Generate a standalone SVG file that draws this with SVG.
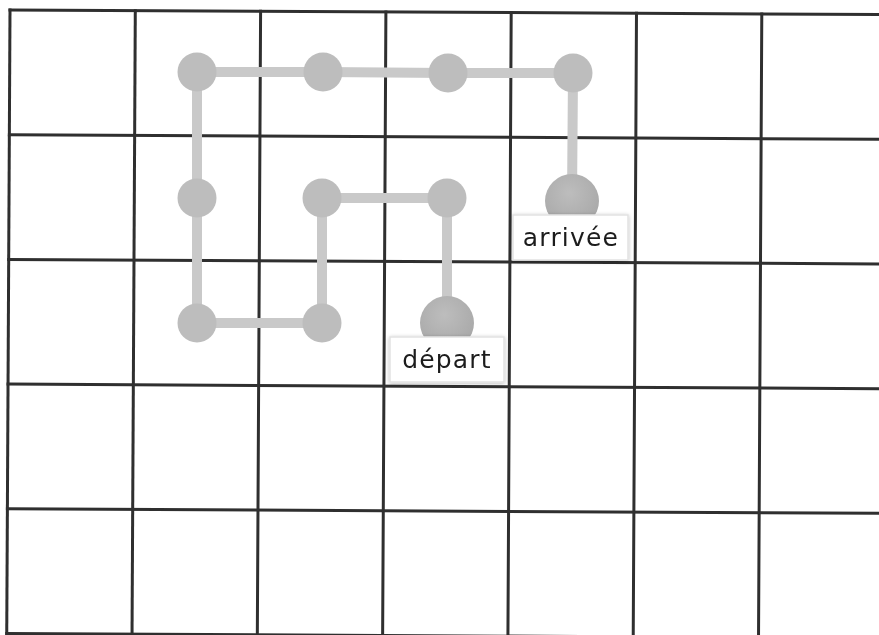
<svg xmlns="http://www.w3.org/2000/svg" width="879" height="635" viewBox="0 0 879 635">
  <style>
    .grid line { stroke: #2f2f2f; stroke-width: 3; stroke-linecap: square; }
    .conn { fill: none; stroke: #c9c9c9; stroke-width: 10; stroke-linejoin: miter; }
    .node { fill: #bdbdbd; }
    .ball { fill: url(#ballGrad); }
    .lbl rect { fill: #ffffff; stroke: #e2e2e2; stroke-width: 1.5; }
    .lbl text { font-family: "DejaVu Sans", "Liberation Sans", sans-serif; font-size: 25px; letter-spacing: 1.2px; fill: #1e1e1e; text-anchor: middle; }
  </style>
  <defs>
    <radialGradient id="ballGrad" cx="0.45" cy="0.35" r="0.7">
      <stop offset="0" stop-color="#bdbdbd"/>
      <stop offset="1" stop-color="#a7a7a7"/>
    </radialGradient>
    <filter id="shadow" x="-10%" y="-20%" width="120%" height="150%">
      <feGaussianBlur in="SourceAlpha" stdDeviation="2"/>
      <feOffset dy="1"/>
      <feComponentTransfer><feFuncA type="linear" slope="0.25"/></feComponentTransfer>
      <feMerge><feMergeNode/><feMergeNode in="SourceGraphic"/></feMerge>
    </filter>
  </defs>
  <rect width="879" height="635" fill="#ffffff"/>
  <g class="grid" transform="rotate(0.3 10 10)">
    <line x1="10" y1="10" x2="10" y2="633.5"/>
    <line x1="135.3" y1="10" x2="135.3" y2="633.5"/>
    <line x1="260.6" y1="10" x2="260.6" y2="633.5"/>
    <line x1="385.9" y1="10" x2="385.9" y2="633.5"/>
    <line x1="511.2" y1="10" x2="511.2" y2="633.5"/>
    <line x1="636.5" y1="10" x2="636.5" y2="633.5"/>
    <line x1="761.8" y1="10" x2="761.8" y2="633.5"/>
    <line x1="10" y1="10" x2="900" y2="10"/>
    <line x1="10" y1="134.7" x2="900" y2="134.7"/>
    <line x1="10" y1="259.4" x2="900" y2="259.4"/>
    <line x1="10" y1="384.1" x2="900" y2="384.1"/>
    <line x1="10" y1="508.8" x2="900" y2="508.8"/>
    <line x1="10" y1="633.5" x2="900" y2="633.5"/>
  </g>
  <g id="connectors">
    <polyline class="conn" points="447,320 447,198 322,198 322,323 197,323 197,198 197,72 323,72 448,73 573,73 572,200"/>
  </g>
  <g id="n1"><circle class="node" cx="197" cy="72" r="19.5"/></g>
  <g id="n2"><circle class="node" cx="323" cy="72" r="19.5"/></g>
  <g id="n3"><circle class="node" cx="448" cy="73" r="19.5"/></g>
  <g id="n4"><circle class="node" cx="573" cy="73" r="19.5"/></g>
  <g id="n5"><circle class="node" cx="197" cy="198" r="19.5"/></g>
  <g id="n6"><circle class="node" cx="322" cy="198" r="19.5"/></g>
  <g id="n7"><circle class="node" cx="447" cy="198" r="19.5"/></g>
  <g id="n8"><circle class="node" cx="197" cy="323" r="19.5"/></g>
  <g id="n9"><circle class="node" cx="322" cy="323" r="19.5"/></g>
  <g id="arrivee">
    <circle class="ball" cx="572" cy="201" r="27"/>
    <g class="lbl" filter="url(#shadow)">
      <rect x="513" y="215" width="115" height="45"/>
      <text x="571" y="246">arrivée</text>
    </g>
  </g>
  <g id="depart">
    <circle class="ball" cx="447" cy="323" r="27"/>
    <g class="lbl" filter="url(#shadow)">
      <rect x="390" y="337" width="114" height="45"/>
      <text x="447" y="368">départ</text>
    </g>
  </g>
</svg>
